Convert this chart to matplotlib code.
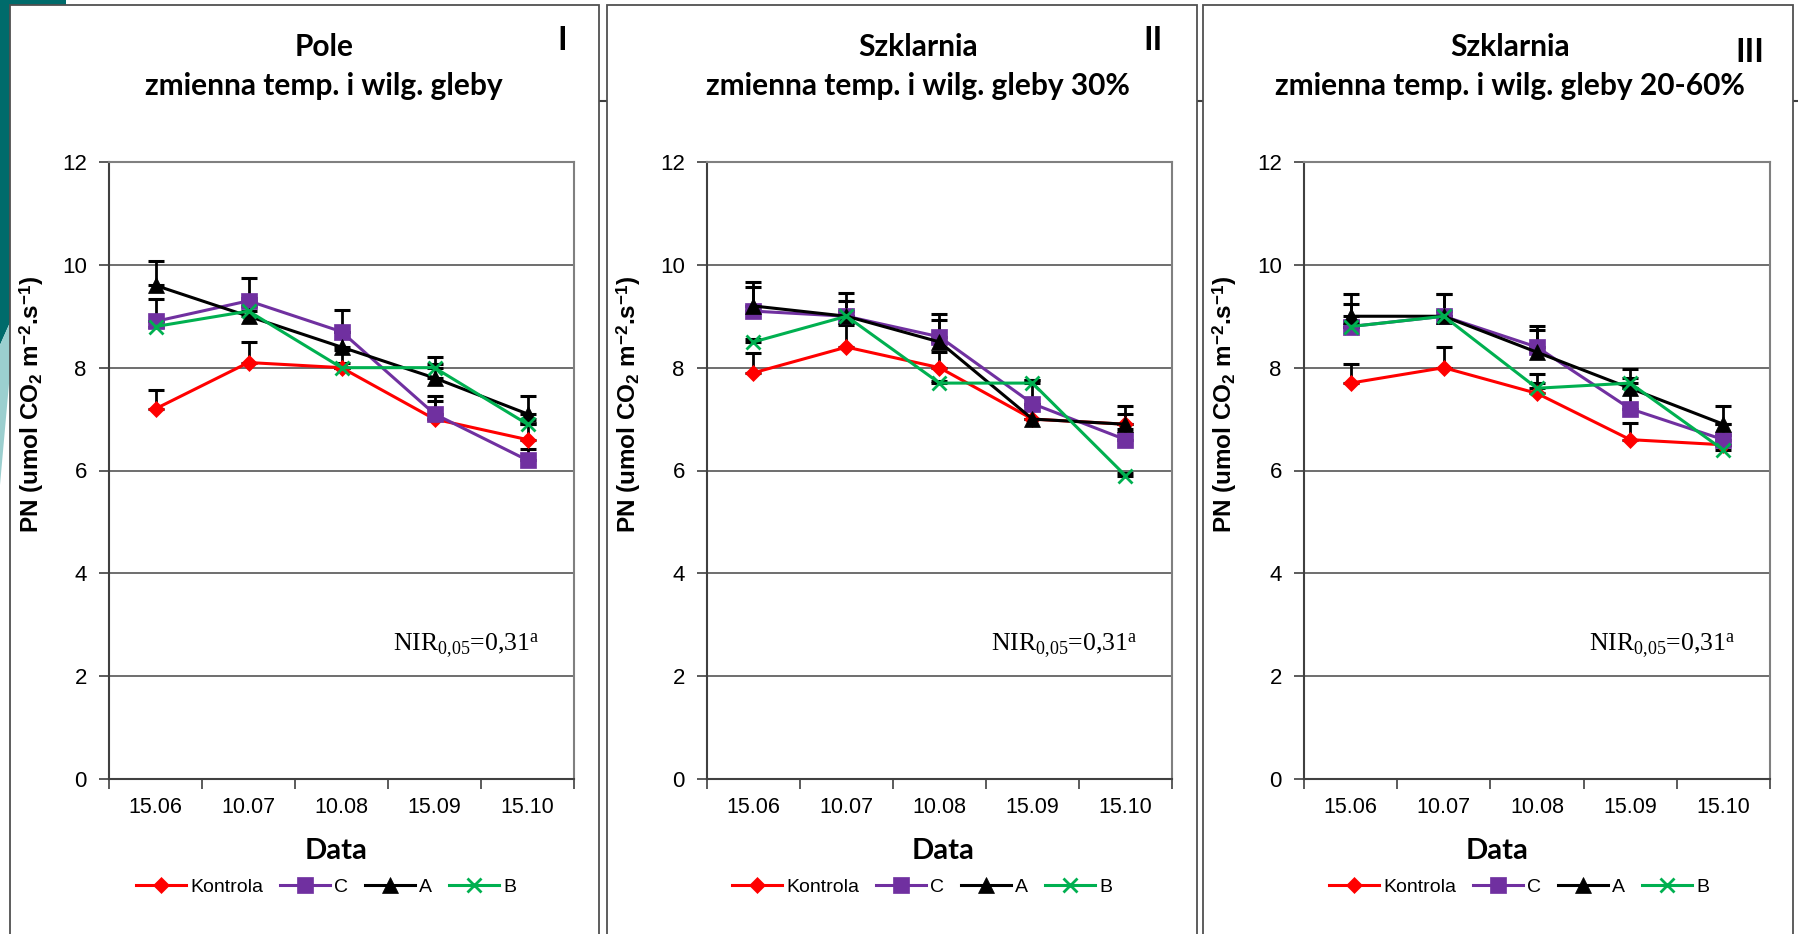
import numpy as np
import matplotlib
matplotlib.use("Agg")
import matplotlib.pyplot as plt
from matplotlib.patches import Rectangle, Polygon
from matplotlib.lines import Line2D

###############################################################################
#Data
###############################################################################
dates = ["15.06", "10.07", "10.08", "15.09", "15.10"]
series_names = ["Kontrola", "C", "A", "B"]

titles_top = ["Pole", "Szklarnia", "Szklarnia"]
titles_bottom = ["zmienna temp. i wilg. gleby",
                 "zmienna temp. i wilg. gleby 30%",
                 "zmienna temp. i wilg. gleby 20-60%"]
romans = ["I", "II", "III"]

#Panel I - Pole
k1 = [7.2, 8.1, 8.0, 7.0, 6.6]
c1 = [8.9, 9.3, 8.7, 7.1, 6.2]
a1 = [9.6, 9.0, 8.4, 7.8, 7.1]
b1 = [8.8, 9.1, 8.0, 8.0, 6.9]
ek1 = [0.37, 0.40, 0.35, 0.36, 0.30]
ec1 = [0.44, 0.45, 0.43, 0.35, 0.21]
ea1 = [0.47, 0.35, 0.30, 0.40, 0.35]
eb1 = [0.10, 0.10, 0.10, 0.08, 0.10]

#Panel II - Szklarnia 30%
k2 = [7.9, 8.4, 8.0, 7.0, 6.9]
c2 = [9.1, 9.0, 8.6, 7.3, 6.6]
a2 = [9.2, 9.0, 8.5, 7.0, 6.9]
b2 = [8.5, 9.0, 7.7, 7.7, 5.9]
ek2 = [0.39, 0.43, 0.30, 0.25, 0.20]
ec2 = [0.47, 0.45, 0.44, 0.46, 0.20]
ea2 = [0.46, 0.30, 0.43, 0.30, 0.35]
eb2 = [0.05, 0.10, 0.05, 0.06, 0.05]

#Panel III - Szklarnia 20-60%
k3 = [7.7, 8.0, 7.5, 6.6, 6.5]
c3 = [8.8, 9.0, 8.4, 7.2, 6.6]
a3 = [9.0, 9.0, 8.3, 7.6, 6.9]
b3 = [8.8, 9.0, 7.6, 7.7, 6.4]
ek3 = [0.38, 0.40, 0.38, 0.33, 0.20]
ec3 = [0.43, 0.44, 0.41, 0.40, 0.30]
ea3 = [0.44, 0.44, 0.44, 0.37, 0.35]
eb3 = [0.10, 0.10, 0.10, 0.10, 0.10]

nir_text = "NIR$_{\\mathrm{0{,}05}}$=0,31$^{\\mathrm{a}}$"

###############################################################################
#Style
###############################################################################
plt.rcParams['font.family'] = "Liberation Sans"
plt.rcParams['mathtext.fontset'] = "custom"
plt.rcParams['mathtext.rm'] = "Liberation Serif"
plt.rcParams['mathtext.it'] = "Liberation Serif:italic"
plt.rcParams['mathtext.bf'] = "Liberation Sans:bold"

colors = ["#FF0000", "#7030A0", "#000000", "#00B050"]
markers = ["D", "s", "^", "x"]
msizes = [8.5, 11, 11, 10]

W, H = 1799, 934
fig = plt.figure(figsize=(W / 100, H / 100), dpi=100)

def fx(px):
    return px / W

def fy(py):
    return 1 - py / H

#Slide background decoration (teal corner shapes + rule under title)
fig.patches.append(Polygon([(fx(0), fy(0)), (fx(66), fy(0)), (fx(66), fy(8)),
                            (fx(12), fy(8)), (fx(12), fy(318)), (fx(0), fy(345))],
                           closed=True, transform=fig.transFigure,
                           facecolor="#006B6B", edgecolor="none", zorder=0))
fig.patches.append(Polygon([(fx(0), fy(345)), (fx(12), fy(318)), (fx(12), fy(350)),
                            (fx(0), fy(485))],
                           closed=True, transform=fig.transFigure,
                           facecolor="#9BCFCF", edgecolor="none", zorder=0))
fig.lines.append(Line2D([fx(0), fx(W)], [fy(101), fy(101)], transform=fig.transFigure,
                        color="#404040", linewidth=1.5, zorder=0))

#Panel frames (pixel coords)
frames = [(10, 599), (607, 1197), (1203, 1793)]
for l, r in frames:
    fig.patches.append(Rectangle((fx(l), fy(940)), (r - l) / W, (940 - 5) / H,
                                 transform=fig.transFigure, facecolor="white",
                                 edgecolor="#505050", linewidth=1.3, zorder=1))

#Axes boxes (left, right, top, bottom) in pixels
boxes = [(109, 574, 162, 779), (707, 1172, 162, 779), (1304, 1770, 162, 779)]
title_x = [324, 918, 1510]
roman_pos = [(562, 40), (1153, 40), (1750, 52)]
data_x = [336, 943, 1497]
legend_x = [326, 922, 1519]

panels = [(k1, c1, a1, b1, ek1, ec1, ea1, eb1),
          (k2, c2, a2, b2, ek2, ec2, ea2, eb2),
          (k3, c3, a3, b3, ek3, ec3, ea3, eb3)]

x = np.arange(1, len(dates) + 1)

for p, (l, r, t, b) in enumerate(boxes):
    ax = fig.add_axes([fx(l), fy(b), (r - l) / W, (b - t) / H])
    ax.set_zorder(2)
    vals = panels[p][:4]
    errs = panels[p][4:]

    #Error bars (plus only)
    for i in range(4):
        ax.errorbar(x, vals[i], yerr=[np.zeros(len(x)), errs[i]], fmt="none",
                    ecolor="black", elinewidth=2, capsize=6, capthick=2.2, zorder=3)
    #Series
    for i in range(4):
        ax.plot(x, vals[i], color=colors[i], marker=markers[i], markersize=msizes[i],
                markeredgewidth=2 if markers[i] == "x" else 0.5,
                markeredgecolor=colors[i], linewidth=2.2, label=series_names[i],
                zorder=4 + i, clip_on=False)

    ax.set_xlim(0.5, len(dates) + 0.5)
    ax.set_ylim(0, 12)
    ax.set_yticks(np.arange(0, 13, 2))
    ax.yaxis.grid(True, color="#555555", linewidth=1.2)
    ax.set_axisbelow(True)

    #Category ticks between labels, labels at category centres
    ax.set_xticks(np.arange(0.5, len(dates) + 1, 1))
    ax.set_xticklabels([])
    ax.set_xticks(x, minor=True)
    ax.set_xticklabels(dates, minor=True)
    ax.tick_params(axis="x", which="major", direction="out", length=7, width=1.2, color="#404040")
    ax.tick_params(axis="x", which="minor", length=0, pad=13, labelsize=15.5)
    ax.tick_params(axis="y", direction="out", length=7, width=1.2, color="#404040",
                   pad=9, labelsize=16)

    for s in ["top", "right"]:
        ax.spines[s].set_color("#808080")
        ax.spines[s].set_linewidth(1.5)
    for s in ["left", "bottom"]:
        ax.spines[s].set_color("#404040")
        ax.spines[s].set_linewidth(1.5)

    ax.set_ylabel("PN (umol CO$_{\\mathbf{2}}$ m$^{\\mathbf{-2}}$.s$^{\\mathbf{-1}}$)",
                  fontsize=17.5, fontweight="bold")
    ax.yaxis.set_label_coords(-(l - 46 - frames[p][0] + 10) / (r - l), 0.608)

    ax.text(0.925, 2.6, nir_text, transform=ax.get_yaxis_transform(),
            ha="right", va="center", fontsize=18.5, family="Liberation Serif")

    #Titles and labels in figure coords
    fig.text(fx(title_x[p]), fy(47), titles_top[p], ha="center", va="center",
             fontsize=21.5, fontweight="bold", family="Lato", zorder=3)
    fig.text(fx(title_x[p]), fy(86), titles_bottom[p], ha="center", va="center",
             fontsize=21.5, fontweight="bold", family="Lato", zorder=3)
    fig.text(fx(roman_pos[p][0]), fy(roman_pos[p][1]), romans[p], ha="center", va="center",
             fontsize=23, fontweight="bold", family="Lato", zorder=3)
    fig.text(fx(data_x[p]), fy(851), "Data", ha="center", va="center",
             fontsize=21, fontweight="bold", family="Lato", zorder=3)

    leg = ax.legend(loc="center", bbox_to_anchor=(fx(legend_x[p]), fy(887)),
                    bbox_transform=fig.transFigure, ncol=4, frameon=False,
                    fontsize=14, handlelength=2.6, handletextpad=0.2,
                    columnspacing=0.85, borderaxespad=0)

fig.savefig("out.png", dpi=100)
